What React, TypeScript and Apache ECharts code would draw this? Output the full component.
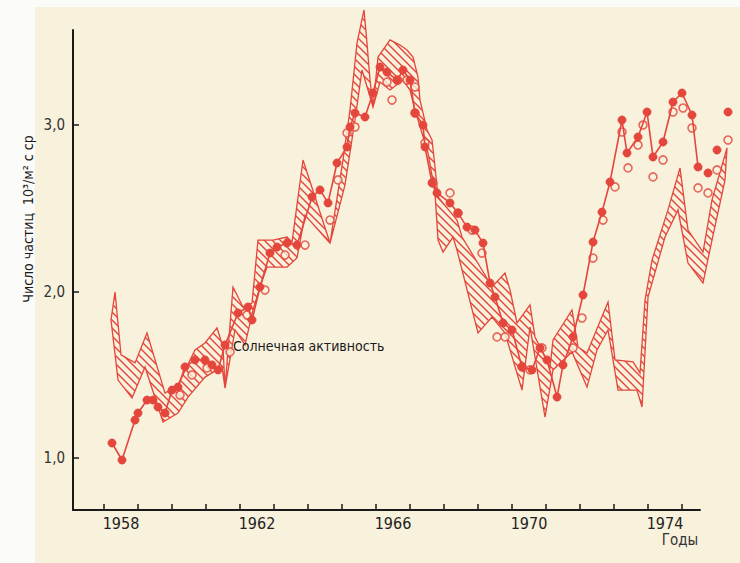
import React, { useEffect, useRef } from 'react';
import * as echarts from 'echarts';

const RED = '#e4463c';
const PAPER = '#f8f1dc';
const INK = '#1a1a1a';
const FONT = "'DejaVu Sans Condensed', 'Liberation Sans Narrow', 'DejaVu Sans', sans-serif";

// Axis ticks / labels
const xTickYears = [1958, 1959, 1960, 1961, 1962, 1963, 1964, 1965, 1966, 1967, 1968, 1969, 1970, 1971, 1972, 1973, 1974, 1975];
const xLabelYears = [1958, 1962, 1966, 1970, 1974];
const yTickValues = [1, 2, 3];

// Solar activity band: upper boundary [year, value]
const bandUpper: [number, number][] = [
  [1958.324, 1.997], [1958.5, 1.619], [1958.912, 1.571], [1959.265, 1.751], [1959.794, 1.39],
  [1960.176, 1.438], [1960.676, 1.649], [1960.971, 1.691], [1961.324, 1.781], [1961.5, 1.667],
  [1961.559, 1.42], [1961.794, 2.027], [1962.088, 1.907], [1962.353, 1.931], [1962.529, 2.309],
  [1962.971, 2.309], [1963.382, 2.327], [1963.529, 2.297], [1963.853, 2.79], [1964.647, 2.291],
  [1965.029, 2.79], [1965.235, 3.09], [1965.441, 3.492], [1965.647, 3.691], [1965.735, 3.492],
  [1965.824, 3.27], [1965.912, 3.108], [1966.059, 3.408], [1966.412, 3.511], [1966.706, 3.48],
  [1966.912, 3.45], [1967.088, 3.408], [1967.235, 3.288], [1967.294, 3.15], [1967.5, 2.97],
  [1967.647, 2.91], [1967.735, 2.748], [1967.824, 2.568], [1968.382, 2.429], [1968.529, 2.327],
  [1969.118, 2.129], [1969.412, 2.027], [1969.794, 2.111], [1969.941, 2.009], [1970.147, 1.811],
  [1970.529, 1.919], [1970.676, 1.727], [1971.118, 1.547], [1971.206, 1.709], [1971.765, 1.889],
  [1971.941, 1.667], [1972.206, 1.631], [1972.824, 1.937], [1973.029, 1.589], [1973.559, 1.577],
  [1973.765, 1.511], [1973.912, 1.949], [1974.118, 2.189], [1974.588, 2.49], [1974.941, 2.742],
  [1975.176, 2.369], [1975.618, 2.237], [1975.882, 2.55], [1976.324, 2.862]
];

// Solar activity band: lower boundary [year, value]
const bandLower: [number, number][] = [
  [1958.206, 1.829], [1958.412, 1.468], [1958.824, 1.36], [1959.206, 1.547], [1959.735, 1.216],
  [1960.176, 1.27], [1960.471, 1.366], [1960.971, 1.486], [1961.471, 1.547], [1961.559, 1.42],
  [1961.853, 1.769], [1962.147, 1.679], [1962.382, 1.889], [1962.588, 2.027], [1962.794, 2.147],
  [1963.382, 2.147], [1963.676, 2.201], [1963.912, 2.459], [1964.647, 2.291], [1965.088, 2.64],
  [1965.382, 3.03], [1965.588, 3.33], [1965.765, 3.21], [1965.912, 3.108], [1966.118, 3.258],
  [1966.412, 3.21], [1966.794, 3.27], [1967.0, 3.21], [1967.147, 3.09], [1967.529, 2.832],
  [1967.735, 2.592], [1967.824, 2.309], [1967.971, 2.237], [1968.265, 2.327], [1968.382, 2.249],
  [1969.0, 1.751], [1969.412, 1.847], [1969.794, 1.751], [1970.294, 1.408], [1970.529, 1.787],
  [1970.971, 1.246], [1971.206, 1.529], [1971.765, 1.637], [1972.206, 1.426], [1972.5, 1.649],
  [1972.824, 1.769], [1973.118, 1.408], [1973.676, 1.408], [1973.824, 1.306], [1974.0, 1.967],
  [1974.5, 2.327], [1974.882, 2.49], [1975.176, 2.171], [1975.618, 2.051], [1975.882, 2.309],
  [1976.265, 2.67], [1976.324, 2.862]
];

// Particle counts, filled circles (connected)
const filledPoints: [number, number][] = [
  [1958.235, 1.09], [1958.529, 0.988], [1958.912, 1.228], [1959.0, 1.27], [1959.265, 1.348],
  [1959.441, 1.348], [1959.588, 1.306], [1959.794, 1.27], [1960.0, 1.408], [1960.176, 1.426],
  [1960.382, 1.547], [1960.676, 1.589], [1960.971, 1.589], [1961.176, 1.559], [1961.353, 1.529],
  [1961.559, 1.679], [1961.941, 1.871], [1962.235, 1.907], [1962.353, 1.829], [1962.588, 2.027],
  [1962.882, 2.231], [1963.088, 2.267], [1963.382, 2.291], [1963.676, 2.279], [1964.118, 2.568],
  [1964.353, 2.61], [1964.588, 2.532], [1964.853, 2.772], [1965.147, 2.868], [1965.235, 2.988],
  [1965.382, 3.072], [1965.676, 3.048], [1965.912, 3.192], [1966.118, 3.348], [1966.324, 3.318],
  [1966.618, 3.27], [1966.794, 3.33], [1967.0, 3.27], [1967.147, 3.072], [1967.382, 3.0],
  [1967.441, 2.868], [1967.647, 2.652], [1967.794, 2.592], [1968.176, 2.532], [1968.412, 2.471],
  [1968.676, 2.387], [1968.912, 2.369], [1969.147, 2.291], [1969.353, 2.051], [1969.5, 1.967],
  [1969.735, 1.811], [1970.0, 1.769], [1970.294, 1.547], [1970.588, 1.529], [1970.824, 1.661],
  [1971.029, 1.589], [1971.324, 1.366], [1971.5, 1.559], [1971.794, 1.727], [1972.088, 1.979],
  [1972.382, 2.297], [1972.647, 2.477], [1972.882, 2.658], [1973.235, 3.03], [1973.382, 2.832],
  [1973.706, 2.928], [1973.971, 3.078], [1974.147, 2.808], [1974.441, 2.898], [1974.735, 3.138],
  [1975.0, 3.192], [1975.294, 3.06], [1975.471, 2.748], [1975.765, 2.712], [1976.029, 2.85],
  [1976.353, 3.078]
];

// Particle counts, open circles
const openPoints: [number, number][] = [
  [1960.235, 1.378], [1960.588, 1.499], [1961.029, 1.541], [1961.706, 1.637], [1962.206, 1.859],
  [1962.735, 2.009], [1963.324, 2.219], [1963.912, 2.279], [1964.647, 2.429], [1964.882, 2.67],
  [1965.147, 2.952], [1965.382, 2.988], [1966.471, 3.15], [1966.324, 3.258], [1966.647, 3.27],
  [1966.912, 3.27], [1967.147, 3.228], [1967.147, 3.072], [1967.441, 2.892], [1967.676, 2.652],
  [1968.176, 2.592], [1968.412, 2.471], [1968.824, 2.369], [1969.118, 2.231], [1969.559, 1.727],
  [1969.794, 1.727], [1970.294, 1.547], [1970.529, 1.529], [1970.882, 1.661], [1971.794, 1.661],
  [1972.059, 1.841], [1972.382, 2.201], [1972.676, 2.429], [1973.029, 2.628], [1973.235, 2.958],
  [1973.412, 2.742], [1973.706, 2.88], [1973.853, 3.0], [1974.147, 2.688], [1974.441, 2.79],
  [1974.735, 3.078], [1975.029, 3.102], [1975.294, 2.982], [1975.471, 2.622], [1975.765, 2.592],
  [1976.029, 2.73], [1976.353, 2.91]
];

const X_MIN = 1957.088;
const X_MAX = 1975.529;
const Y_MIN = 0.6877;
const Y_MAX = 3.5706;

function makeHatch(): HTMLCanvasElement {
  const s = 8;
  const c = document.createElement('canvas');
  c.width = s;
  c.height = s;
  const ctx = c.getContext('2d')!;
  ctx.fillStyle = PAPER;
  ctx.fillRect(0, 0, s, s);
  ctx.strokeStyle = RED;
  ctx.lineWidth = 1.4;
  ctx.beginPath();
  ctx.moveTo(-1, -1); ctx.lineTo(s + 1, s + 1);
  ctx.moveTo(-1, s - 1); ctx.lineTo(1, s + 1);
  ctx.moveTo(s - 1, -1); ctx.lineTo(s + 1, 1);
  ctx.stroke();
  return c;
}

export default function App() {
  const ref = useRef<HTMLDivElement>(null);

  useEffect(() => {
    if (!ref.current) return;
    const chart = echarts.init(ref.current, undefined, { renderer: 'svg' });
    const hatch = makeHatch();

    const option: any = {
      animation: false,
      backgroundColor: '#fbfbf9',
      grid: { left: 73, right: 40, top: 30, bottom: 53 },
      xAxis: {
        type: 'value',
        min: X_MIN,
        max: X_MAX,
        axisLine: { lineStyle: { color: INK, width: 2 } },
        axisTick: {
          show: true, inside: true, length: 6, customValues: xTickYears,
          lineStyle: { color: INK, width: 1.5 }
        },
        axisLabel: {
          customValues: xLabelYears.map((y) => y + 0.5),
          formatter: (v: number) => String(Math.floor(v)),
          fontSize: 16, color: '#222', margin: 5, fontFamily: FONT
        },
        splitLine: { show: false }
      },
      yAxis: {
        type: 'value',
        min: Y_MIN,
        max: Y_MAX,
        axisLine: { show: true, lineStyle: { color: INK, width: 2 } },
        axisTick: {
          show: true, inside: true, length: 6, customValues: yTickValues,
          lineStyle: { color: INK, width: 1.5 }
        },
        axisLabel: {
          customValues: yTickValues,
          formatter: (v: number) => v.toFixed(1).replace('.', ','),
          fontSize: 15, color: '#333', margin: 8, fontFamily: FONT
        },
        splitLine: { show: false }
      },
      graphic: [
        {
          type: 'rect', z: -100, silent: true,
          shape: { x: 35, y: 7, width: 705, height: 556 },
          style: { fill: PAPER }
        },
        {
          type: 'text', x: 28, y: 219, rotation: Math.PI / 2, z: 100,
          style: {
            text: 'Число частиц  10³/м² с ср', fontSize: 14, fontFamily: FONT,
            fill: INK, align: 'center', verticalAlign: 'middle'
          }
        },
        {
          type: 'text', x: 233, y: 346, z: 100,
          style: {
            text: 'Солнечная активность', fontSize: 14, fontFamily: FONT,
            fill: INK, align: 'left', verticalAlign: 'middle'
          }
        },
        {
          type: 'text', x: 680, y: 540, z: 100,
          style: {
            text: 'Годы', fontSize: 15, fontFamily: FONT,
            fill: '#333', align: 'center', verticalAlign: 'middle'
          }
        }
      ],
      series: [
        {
          type: 'custom',
          name: 'Солнечная активность',
          silent: true,
          z: 2,
          data: [bandUpper[0]],
          renderItem: (_params: any, api: any) => {
            const pts = bandUpper.concat(bandLower.slice().reverse()).map((p) => api.coord(p));
            return {
              type: 'polygon',
              shape: { points: pts },
              style: {
                fill: { image: hatch, repeat: 'repeat' },
                stroke: RED,
                lineWidth: 1.3
              }
            };
          }
        },
        {
          type: 'scatter',
          data: openPoints,
          symbol: 'circle',
          symbolSize: 8,
          clip: false,
          z: 3,
          itemStyle: { color: PAPER, borderColor: RED, borderWidth: 1.6 }
        },
        {
          type: 'line',
          data: filledPoints,
          symbol: 'circle',
          symbolSize: 8,
          showAllSymbol: true,
          clip: false,
          z: 4,
          lineStyle: { color: RED, width: 1.6 },
          itemStyle: { color: RED, borderColor: RED, borderWidth: 1 }
        }
      ]
    };

    chart.setOption(option);
    return () => chart.dispose();
  }, []);

  return (
    <div
      ref={ref}
      style={{ position: 'fixed', left: 0, top: 0, width: 740, height: 563 }}
    />
  );
}
